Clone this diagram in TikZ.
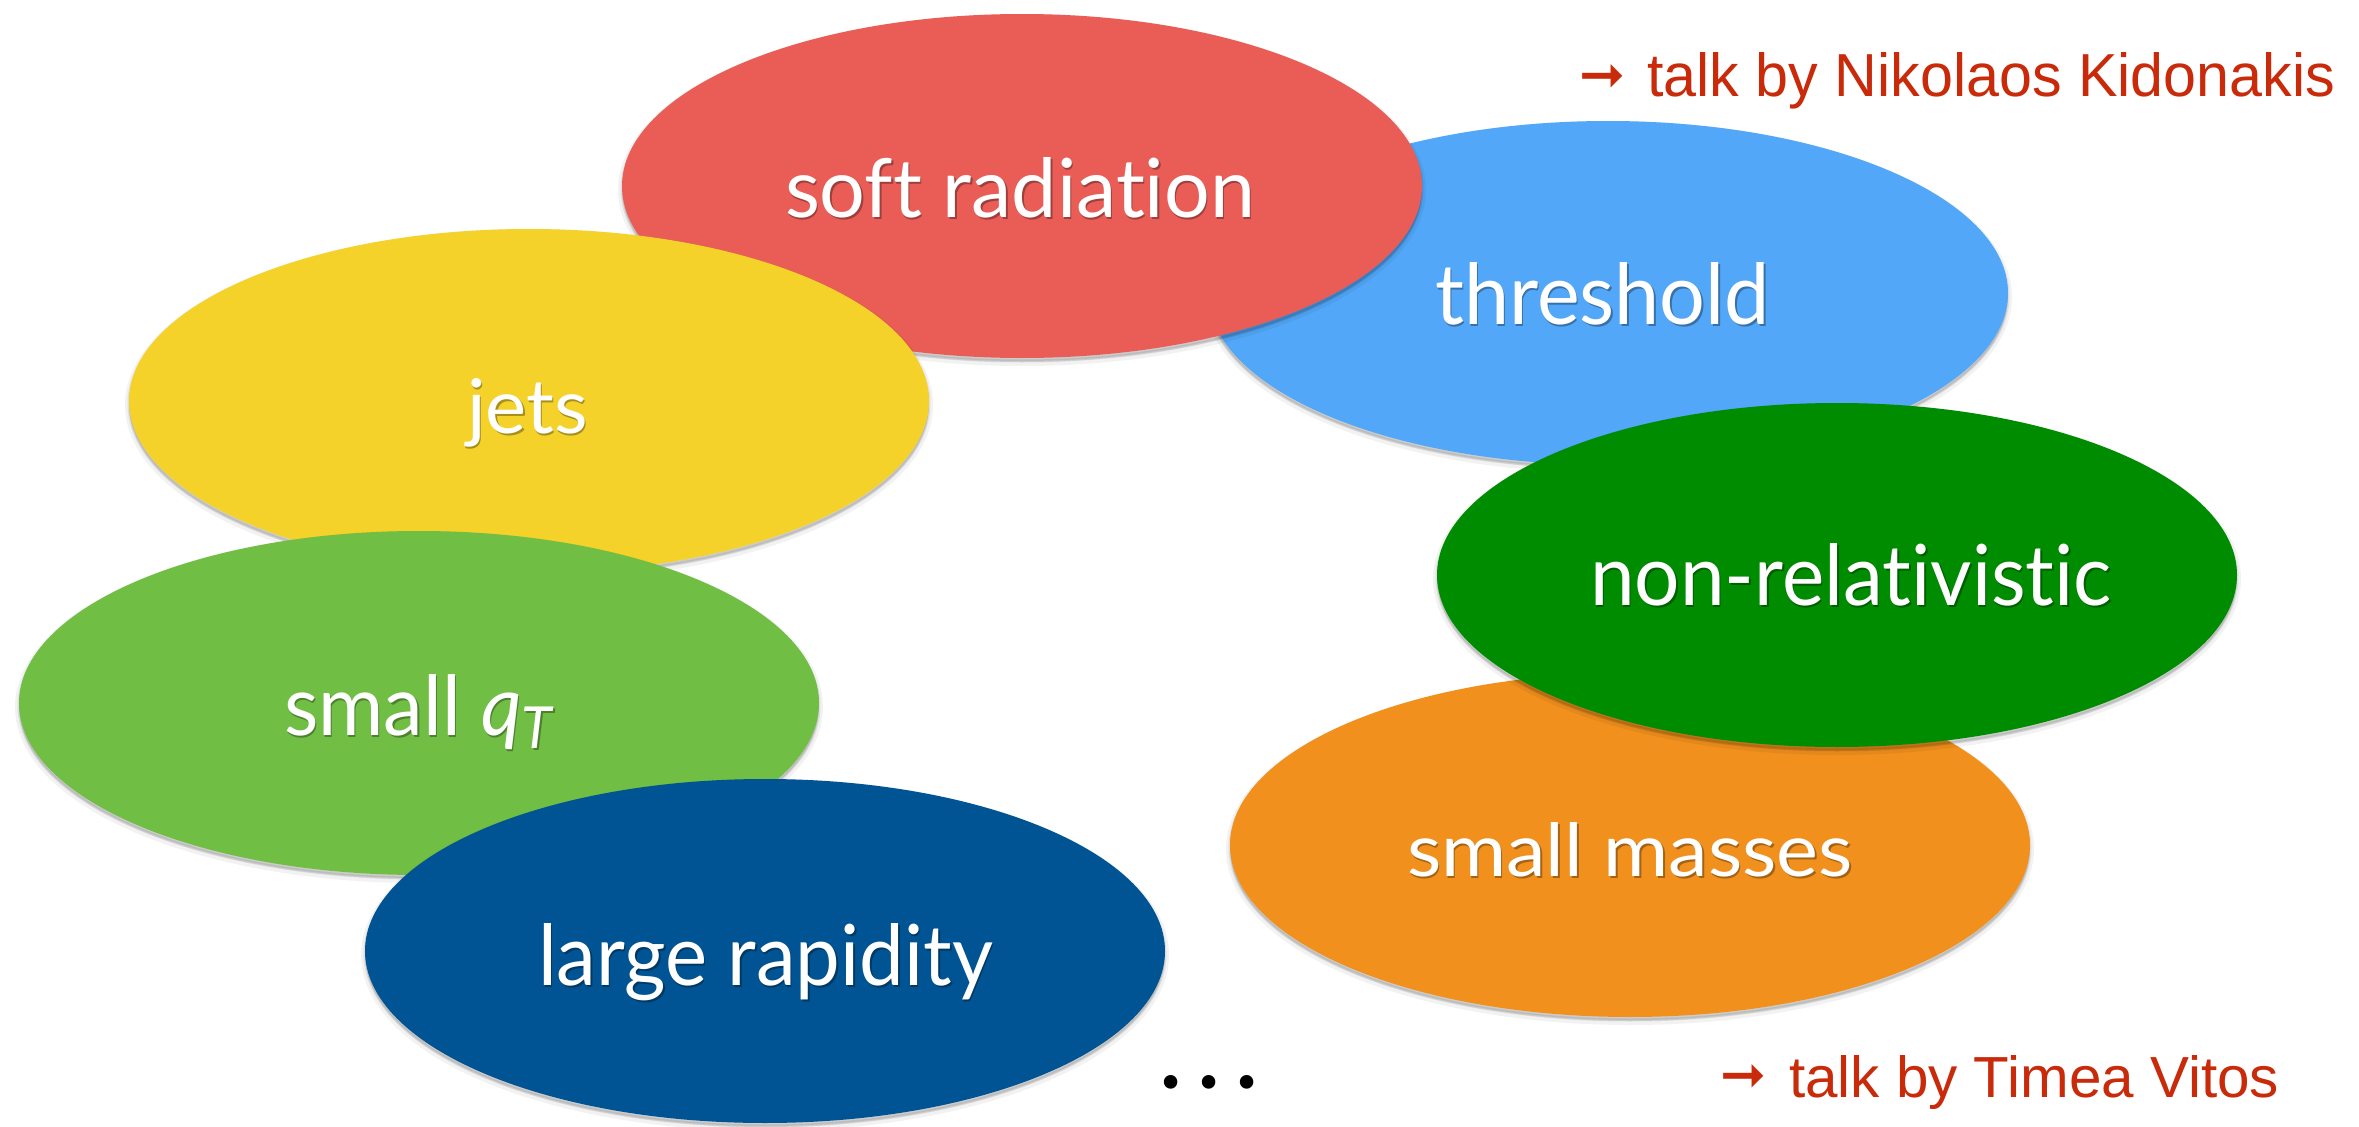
\documentclass[tikz,border=0pt]{standalone}
\usepackage{fontspec}
\usepackage{graphicx}
\setmainfont{Lato}[Ligatures=NoCommon]
\newfontfamily\notefont{Liberation Sans}
\newfontfamily\symfont{DejaVu Sans}
\newfontfamily\dotfont{Poppins}
\usetikzlibrary{shapes.geometric}

% one unit of the drawing grid
\newlength\pxu
\setlength\pxu{0.01cm}

\definecolor{redfill}{HTML}{EA5D57}
\definecolor{bluefill}{HTML}{52A7F8}
\definecolor{yellowfill}{HTML}{F5D22A}
\definecolor{limefill}{HTML}{70BE44}
\definecolor{greenfill}{HTML}{008C00}
\definecolor{orangefill}{HTML}{F1901D}
\definecolor{navyfill}{HTML}{005493}
\definecolor{notered}{HTML}{C82A0A}
\colorlet{redsh}{redfill!68!black}
\colorlet{bluesh}{bluefill!68!black}
\colorlet{yellowsh}{yellowfill!68!black}
\colorlet{limesh}{limefill!68!black}
\colorlet{greensh}{greenfill!68!black}
\colorlet{orangesh}{orangefill!68!black}
\colorlet{navysh}{navyfill!68!black}

% white label with a darker copy set slightly below it
% #1 width, #2 height above the baseline (grid units), #3 shadow colour, #4 text
\newcommand\shlabel[4]{%
  \makebox[0pt][l]{\hspace*{1.5\pxu}\raisebox{-2.5\pxu}{\color{#3}\resizebox{#1\pxu}{#2\pxu}{#4}}}%
  \resizebox{#1\pxu}{#2\pxu}{#4}}
\newcommand\dotbox{\makebox[38\pxu]{\resizebox{!}{13\pxu}{.}}}
% heavy pointer in front of the talk references
\newcommand\pointer{\raisebox{4\pxu}{\resizebox{46\pxu}{!}{\symfont ➞}}}

\tikzset{
  soft shadow/.style={
    preaction={fill=black, fill opacity=0.08, draw=black, draw opacity=0.05,
      line width=8\pxu, transform canvas={yshift=-4\pxu}},
    preaction={fill=black, fill opacity=0.08, draw=black, draw opacity=0.08,
      line width=3\pxu, transform canvas={yshift=-3\pxu}}},
  blob/.style={ellipse, minimum width=800\pxu, minimum height=344\pxu,
    inner sep=0pt, outer sep=0pt, fill=#1, soft shadow},
  txt/.style={inner sep=0pt, outer sep=0pt, text=white, anchor=base west},
  note/.style={inner sep=0pt, outer sep=0pt, text=notered, font=\notefont, anchor=base west},
}

\begin{document}
\begin{tikzpicture}[x=0.01cm, y=-0.01cm]
\useasboundingbox (0,0) rectangle (2359,1127);
\fill[white] (0,0) rectangle (2359,1127);

% right-hand group, back to front
\node[blob=bluefill]   (threshold) at (1608,293) {};
% left-hand group, back to front
\node[blob=redfill]    (soft)      at (1022,186) {};
\node[blob=yellowfill] (jets)      at (529,401)  {};
\node[blob=limefill]   (qt)        at (419,703)  {};
\node[blob=navyfill]   (rapidity)  at (765,951)  {};
\node[blob=orangefill] (masses)    at (1630,845) {};
\node[blob=greenfill]  (nonrel)    at (1837,575) {};

% labels
\node[txt] (soft-t)      at (785,217)  {\shlabel{470}{60}{redsh}{soft radiation}};
\node[txt] (threshold-t) at (1435,324) {\shlabel{335}{62}{bluesh}{threshold}};
\node[txt] (jets-t)      at (467,433)  {\shlabel{121}{55}{yellowsh}{jets}};
\node[txt] (qt-t)        at (284,735)  {\shlabel{274}{61}{limesh}{small \textit{q}\textsubscript{\textit{T}}}};
\node[txt] (nonrel-t)    at (1590,605) {\shlabel{522}{62}{greensh}{non-relativistic}};
\node[txt] (masses-t)    at (1407,876) {\shlabel{446}{54}{orangesh}{small masses}};
\node[txt] (rapidity-t)  at (538,985)  {\shlabel{455}{62}{navysh}{large rapidity}};

% talk references
\node[note] (talk-top)    at (1579,97)   {\pointer\hspace{22\pxu}\resizebox{688\pxu}{44\pxu}{talk by Nikolaos Kidonakis}};
\node[note] (talk-bottom) at (1720,1097) {\pointer\hspace{23\pxu}\resizebox{490\pxu}{42\pxu}{talk by Timea Vitos}};

% ellipsis
\node[inner sep=0pt, outer sep=0pt, anchor=base, font=\dotfont, text=black] (more) at (1209,1088) {\dotbox\dotbox\dotbox};
\end{tikzpicture}
\end{document}
